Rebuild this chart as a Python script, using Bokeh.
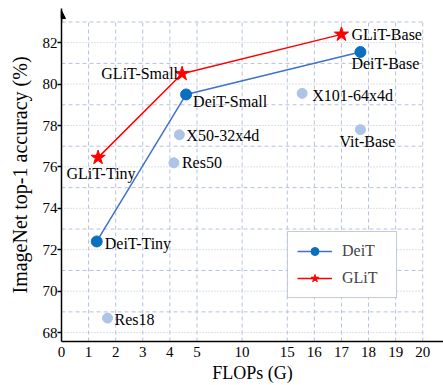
from bokeh.plotting import figure
from bokeh.models import Range1d, FixedTicker, Arrow, NormalHead
from bokeh.core.properties import value
from bokeh.embed import file_html
from bokeh.resources import INLINE

# ---- data ----
deit_names = ["DeiT-Tiny", "DeiT-Small", "DeiT-Base"]
deit_flops = [1.3, 4.6, 17.7]
deit_acc = [72.4, 79.5, 81.55]

glit_names = ["GLiT-Tiny", "GLiT-Small", "GLiT-Base"]
glit_flops = [1.35, 4.45, 17.0]
glit_acc = [76.45, 80.5, 82.4]

base_names = ["Res18", "Res50", "X50-32x4d", "X101-64x4d", "Vit-Base"]
base_flops = [1.7, 4.15, 4.35, 15.55, 17.7]
base_acc = [68.7, 76.2, 77.55, 79.55, 77.8]

x_ticks = [0, 1, 2, 3, 4, 5, 10, 15, 16, 17, 18, 19, 20]
y_ticks = [68, 70, 72, 74, 76, 78, 80, 82]
grid_y = list(range(68, 84))


def warp(x):
    # piecewise axis: 0-5 and 15-20 stretched, 5-15 compressed
    if x <= 5:
        return 3 * x
    if x <= 15:
        return 15 + (x - 5)
    return 25 + 3 * (x - 15)


SERIF = "'Liberation Serif', serif"
FONT = value("Liberation Serif")
GRID = "#b5c1db"

y0, y1 = 67.57, 83.65
p = figure(width=443, height=385, output_backend="svg", toolbar_location=None,
           x_range=Range1d(0, 42.3), y_range=Range1d(y0, y1),
           min_border_left=61, min_border_right=0, min_border_top=8,
           min_border_bottom=41)
p.outline_line_color = None
p.xgrid.visible = False
p.ygrid.visible = False
p.background_fill_color = "white"

# grid
xt = [warp(t) for t in x_ticks if t != 0]
p.segment(x0=xt, y0=[y0] * len(xt), x1=xt, y1=[83] * len(xt),
          line_color=GRID, line_width=1, line_dash="4 3")
ev = [g for g in grid_y if g % 2 == 0]
od = [g for g in grid_y if g % 2 == 1]
p.segment(x0=[0] * len(ev), y0=ev, x1=[warp(20)] * len(ev), y1=ev,
          line_color=GRID, line_width=1, line_dash="1 2")
p.segment(x0=[0] * len(od), y0=od, x1=[warp(20)] * len(od), y1=od,
          line_color=GRID, line_width=1, line_dash="4 3")

# axes
p.xaxis.ticker = FixedTicker(ticks=[warp(t) for t in x_ticks])
p.xaxis.major_label_overrides = {warp(t): str(t) for t in x_ticks}
p.yaxis.ticker = FixedTicker(ticks=y_ticks)
for ax in (p.xaxis, p.yaxis):
    ax.axis_line_color = "black"
    ax.axis_line_width = 1.5
    ax.minor_tick_line_color = None
    ax.major_label_text_font = SERIF
    ax.major_label_text_font_size = "15px"
    ax.major_label_text_color = "black"
    ax.axis_label_text_font = "Liberation Serif"
    ax.axis_label_text_font_style = "normal"
    ax.axis_label_text_color = "black"
p.xaxis.major_tick_in = 0
p.xaxis.major_tick_out = 0
p.xaxis.major_label_standoff = 5
p.xaxis.axis_label = "FLOPs (G)"
p.xaxis.axis_label_standoff = 3
p.xaxis.axis_label_text_font_size = "18px"
p.yaxis.major_tick_in = 0
p.yaxis.major_tick_out = 4
p.yaxis.major_tick_line_width = 1.5
p.yaxis.major_label_standoff = 0
p.yaxis.axis_label = "ImageNet top-1 accuracy (%)"
p.yaxis.axis_label_standoff = 9
p.yaxis.axis_label_text_font_size = "20px"

p.add_layout(Arrow(end=NormalHead(size=8, fill_color="black", line_color="black"),
                   x_start=0, y_start=83.0, x_end=0, y_end=83.55,
                   line_color="black", line_width=1.5))

# series
BLUE_L = "#3f71cc"
BLUE_M = "#0b6fc0"
RED = "#ff0000"
LIGHT = "#aec4e6"

p.scatter([warp(x) for x in base_flops], base_acc, marker="circle", size=10,
          fill_color=LIGHT, line_color=LIGHT)

p.line([warp(x) for x in deit_flops], deit_acc, line_color=BLUE_L, line_width=1.5,
       legend_label="DeiT")
p.scatter([warp(x) for x in deit_flops], deit_acc, marker="circle", size=11,
          fill_color=BLUE_M, line_color=BLUE_M, legend_label="DeiT")
p.line([warp(x) for x in glit_flops], glit_acc, line_color=RED, line_width=1.5,
       legend_label="GLiT")
p.scatter([warp(x) for x in glit_flops], glit_acc, marker="star", size=15,
          fill_color=RED, line_color=RED, legend_label="GLiT")

# annotations
lab_style = dict(text_font=FONT, text_font_size="16px", text_color="black",
                 text_baseline="middle")
p.text([warp(x) for x in deit_flops], deit_acc, text=deit_names,
       x_offset=[8, 7, -9], y_offset=[2, 7, 12], text_align="left", **lab_style)
p.text([warp(x) for x in glit_flops], glit_acc, text=glit_names,
       x_offset=[3, -4, 10], y_offset=[16, 0, 0],
       text_align=["center", "right", "left"], **lab_style)
p.text([warp(x) for x in base_flops], base_acc, text=base_names,
       x_offset=[7, 8, 7, 10, 7], y_offset=[1, 0, 1, 2, 12],
       text_align=["left", "left", "left", "left", "center"], **lab_style)

# legend
lg = p.legend[0]
lg.location = (226, 43)
lg.border_line_color = "#8795b5"
lg.border_line_width = 1.5
lg.background_fill_color = "white"
lg.background_fill_alpha = 1
lg.padding = 9
lg.spacing = 7
lg.margin = 0
lg.label_height = 20
lg.glyph_height = 20
lg.glyph_width = 35
lg.label_standoff = 10
lg.label_width = 45
lg.label_text_font = SERIF
lg.label_text_font_size = "16px"

open("out.html", "w").write(file_html(p, INLINE))
